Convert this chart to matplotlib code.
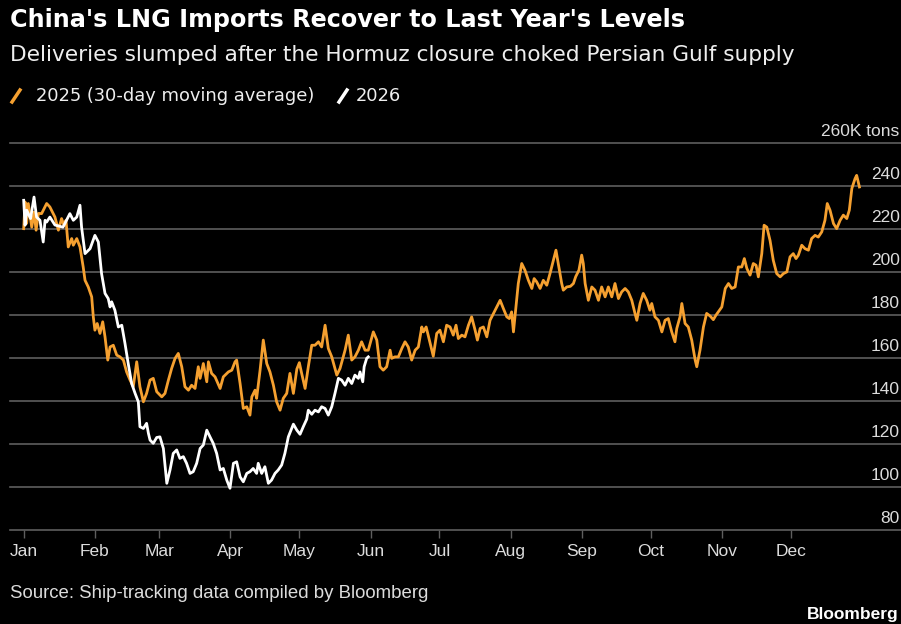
import matplotlib
matplotlib.use("Agg")
import matplotlib.pyplot as plt
from matplotlib.lines import Line2D

# 2025 series, 30-day moving average (day of year, thousand tons)
day_2025 = [
    0.0, 0.6, 1.3, 2.0, 3.5, 4.5, 5.4, 6.4, 7.8, 10.0,
    11.4, 13.6, 15.1, 16.5, 17.5, 18.4, 19.4, 20.9, 21.6, 23.1,
    24.5, 25.9, 26.7, 28.1, 29.6, 30.3, 31.0, 32.0, 33.2, 34.4,
    35.4, 36.6, 37.6, 39.0, 40.5, 41.9, 43.4, 44.8, 46.3, 47.7,
    49.2, 50.6, 52.1, 53.5, 55.0, 56.4, 57.9, 60.1, 61.5, 63.0,
    64.4, 65.9, 67.3, 68.8, 70.2, 71.7, 73.1, 74.6, 76.0, 76.8,
    78.2, 79.7, 80.4, 81.8, 83.3, 85.5, 86.9, 89.1, 90.6, 92.0,
    92.7, 94.2, 95.6, 97.1, 98.5, 99.3, 100.7, 101.4, 102.9, 104.3,
    105.8, 107.2, 108.7, 110.1, 111.6, 113.0, 114.5, 115.9, 117.4, 118.9,
    120.0, 121.0, 122.5, 123.9, 125.4, 126.8, 128.3, 129.7, 131.2, 132.6,
    134.1, 136.3, 137.7, 139.9, 141.3, 142.8, 144.2, 145.7, 147.1, 148.6,
    150.0, 152.2, 153.7, 155.1, 156.5, 158.0, 159.5, 160.2, 161.6, 163.1,
    164.6, 166.0, 167.4, 168.9, 170.4, 171.8, 173.3, 174.0, 175.2, 176.6,
    178.3, 179.8, 181.2, 182.7, 184.1, 185.6, 187.0, 188.2, 189.2, 190.7,
    192.1, 193.6, 195.0, 196.5, 197.5, 198.7, 200.1, 201.6, 203.0, 204.5,
    205.9, 207.4, 208.8, 210.3, 211.4, 212.4, 213.2, 214.3, 215.3, 216.8,
    218.2, 219.7, 221.2, 222.2, 223.3, 224.8, 226.2, 227.7, 229.1, 230.6,
    231.7, 232.7, 234.2, 234.9, 236.4, 238.0, 239.3, 240.3, 241.7, 242.9,
    243.6, 244.4, 245.8, 247.3, 248.7, 250.2, 251.6, 253.1, 254.5, 256.0,
    257.4, 258.9, 260.3, 261.8, 263.2, 264.7, 266.1, 266.9, 268.3, 269.7,
    271.2, 272.6, 273.4, 274.8, 276.3, 277.8, 279.2, 280.6, 282.1, 283.5,
    284.3, 285.7, 286.5, 287.9, 289.3, 290.8, 292.3, 293.0, 294.4, 295.9,
    297.3, 298.8, 300.2, 301.3, 303.9, 305.4, 306.8, 308.2, 309.7, 311.1,
    312.6, 313.7, 314.8, 316.2, 317.6, 318.8, 319.8, 321.3, 322.3, 323.5,
    324.9, 326.3, 327.8, 329.3, 330.7, 332.2, 333.6, 335.0, 336.2, 337.2,
    338.7, 340.1, 341.6, 343.0, 344.5, 345.9, 347.4, 348.8, 349.8, 351.0,
    352.5, 353.9, 355.4, 356.8, 358.3, 359.4, 360.5, 361.9, 362.6, 363.8,
]
val_2025 = [
    220.3, 232.7, 222.8, 232.0, 221.0, 228.0, 219.6, 227.4, 227.3, 232.0,
    230.4, 225.7, 219.6, 225.0, 221.9, 224.2, 211.8, 215.7, 212.6, 215.7,
    211.8, 202.5, 196.3, 193.2, 188.6, 179.3, 173.1, 176.2, 171.6, 177.0,
    170.0, 159.2, 165.3, 166.1, 161.5, 160.7, 159.2, 153.7, 149.9, 146.8,
    158.4, 146.8, 139.8, 143.7, 149.9, 150.7, 144.5, 142.1, 143.7, 149.9,
    155.3, 160.0, 162.3, 156.1, 146.8, 145.2, 147.5, 146.0, 156.1, 150.7,
    157.6, 149.1, 158.4, 153.0, 151.4, 146.0, 151.4, 153.7, 154.5, 158.4,
    159.2, 148.3, 136.7, 137.5, 133.6, 142.1, 145.2, 141.4, 154.5, 168.5,
    157.6, 153.7, 147.5, 139.8, 135.9, 141.4, 143.7, 153.0, 143.7, 155.0,
    158.0, 153.0, 146.0, 156.1, 166.1, 166.1, 167.7, 165.3, 175.4, 164.6,
    160.7, 152.2, 155.3, 163.8, 170.8, 159.2, 160.7, 163.8, 167.7, 163.8,
    163.8, 172.3, 168.5, 156.1, 154.5, 156.1, 163.8, 160.0, 160.7, 160.7,
    164.6, 167.7, 165.3, 159.2, 163.8, 165.3, 174.6, 172.3, 174.6, 168.5,
    161.0, 171.6, 173.1, 167.7, 175.4, 174.6, 170.8, 175.4, 169.2, 170.8,
    170.0, 175.4, 179.3, 173.1, 168.5, 173.9, 174.6, 170.0, 177.7, 180.9,
    183.9, 187.0, 183.2, 179.3, 178.5, 181.6, 172.3, 183.9, 194.8, 204.1,
    201.0, 196.3, 192.5, 197.1, 195.6, 192.5, 196.3, 194.0, 199.4, 205.6,
    210.3, 204.1, 194.8, 191.7, 193.2, 193.5, 194.8, 198.0, 201.0, 208.0,
    204.1, 194.8, 187.0, 193.2, 191.7, 187.0, 193.2, 188.6, 193.2, 188.6,
    194.8, 187.8, 190.9, 192.5, 190.9, 187.0, 180.9, 177.7, 185.5, 190.2,
    187.0, 182.4, 185.5, 179.3, 177.7, 172.3, 177.7, 178.5, 172.3, 167.7,
    173.9, 179.3, 185.5, 176.2, 174.6, 168.5, 159.2, 156.1, 163.8, 174.6,
    180.9, 179.7, 178.0, 180.0, 183.9, 192.5, 194.8, 192.5, 193.2, 202.5,
    202.5, 206.4, 201.8, 198.7, 204.1, 203.3, 197.9, 208.7, 221.9, 221.0,
    214.8, 205.6, 199.4, 197.9, 199.4, 200.2, 207.2, 208.7, 206.4, 207.9,
    212.6, 211.0, 210.3, 215.7, 217.2, 216.4, 218.8, 224.2, 232.0, 228.9,
    222.7, 220.3, 224.2, 226.6, 225.0, 228.9, 239.0, 243.6, 245.1, 239.7,
]

# 2026 series (through early June)
day_2026 = [
    0.0, 0.6, 1.3, 2.0, 3.0, 4.5, 5.6, 7.1, 8.5, 9.3,
    10.0, 11.4, 13.6, 17.1, 20.1, 21.6, 23.1, 24.5, 25.2, 26.7,
    28.9, 31.0, 32.5, 33.9, 35.4, 36.8, 37.6, 38.3, 39.7, 41.2,
    42.7, 44.1, 45.5, 47.0, 48.5, 49.9, 50.6, 52.1, 53.5, 54.3,
    55.0, 56.4, 57.9, 59.3, 60.8, 62.3, 63.7, 65.1, 66.6, 68.0,
    69.5, 70.9, 72.4, 73.8, 75.3, 76.8, 78.2, 79.7, 81.1, 82.5,
    84.0, 85.5, 86.9, 88.4, 89.8, 91.3, 92.7, 94.2, 95.6, 97.1,
    98.5, 99.9, 101.4, 102.1, 103.6, 105.0, 106.5, 107.9, 109.4, 110.8,
    112.3, 113.7, 115.2, 117.4, 118.9, 120.3, 121.7, 123.2, 123.9, 125.4,
    126.8, 128.3, 129.7, 131.2, 132.6, 134.1, 135.5, 137.0, 138.4, 139.9,
    141.3, 142.8, 144.2, 145.7, 146.4, 147.6, 148.2, 149.3, 150.0,
]
val_2026 = [
    233.5, 221.9, 228.9, 227.3, 225.0, 235.0, 225.7, 224.2, 214.1, 224.2,
    223.4, 225.7, 222.0, 221.0, 227.3, 224.2, 225.7, 231.2, 221.0, 208.7,
    211.0, 217.2, 214.1, 199.4, 190.2, 187.8, 183.9, 186.3, 182.4, 174.6,
    175.4, 166.9, 157.6, 148.3, 143.7, 139.8, 128.2, 127.4, 129.8, 125.1,
    122.0, 120.5, 123.2, 123.5, 118.1, 101.9, 108.1, 115.8, 117.4, 113.5,
    114.3, 111.2, 106.5, 107.3, 111.2, 118.1, 119.7, 126.6, 123.5, 120.5,
    115.8, 108.1, 108.8, 103.4, 99.6, 111.2, 111.9, 104.9, 102.6, 106.5,
    107.3, 108.8, 106.5, 111.2, 106.5, 109.6, 101.9, 103.4, 106.5, 108.1,
    110.4, 115.8, 123.5, 129.4, 126.6, 124.7, 128.2, 131.7, 135.9, 134.0,
    135.9, 135.1, 137.5, 136.7, 133.6, 137.5, 143.7, 150.7, 149.9, 147.5,
    150.7, 148.3, 152.2, 150.7, 153.7, 149.1, 156.1, 160.0, 160.7,
]

month_start = [0, 31, 59, 90, 120, 151, 181, 212, 243, 273, 304, 334]
month_names = ["Jan", "Feb", "Mar", "Apr", "May", "Jun",
               "Jul", "Aug", "Sep", "Oct", "Nov", "Dec"]
y_ticks = [80, 100, 120, 140, 160, 180, 200, 220, 240, 260]
y_labels = ["80", "100", "120", "140", "160", "180", "200", "220", "240", "260K tons"]

ORANGE = "#F5A030"
WHITE = "#FFFFFF"
GRID = "#5e5e5e"
TEXT = "#dcdcdc"
W, H = 901, 624

fig = plt.figure(figsize=(W / 100, H / 100), dpi=100, facecolor="black")
ax = fig.add_axes([10 / W, (H - 530.4) / H, 891 / W, (530.4 - 143.3) / H])
ax.set_facecolor("black")
ax.set_xlim(-5.96, 381.9)
ax.set_ylim(80, 260)

for v in y_ticks:
    ax.axhline(v, color=GRID, lw=1.2, clip_on=False, zorder=1)

ax.plot(day_2025, val_2025, color=ORANGE, lw=2.0, zorder=3, solid_joinstyle="round")
ax.plot(day_2026, val_2026, color=WHITE, lw=2.0, zorder=4, solid_joinstyle="round")

# right-side value labels sitting above their gridlines
for v, lab in zip(y_ticks, y_labels):
    ax.annotate(lab, xy=(1, v), xycoords=ax.get_yaxis_transform(),
                xytext=(-1, 5.5), textcoords="offset points",
                ha="right", va="baseline", color=TEXT, fontsize=12.5,
                family="Liberation Sans", annotation_clip=False)

ax.set_yticks([])
ax.set_xticks(month_start)
ax.set_xticklabels(month_names, family="Liberation Sans")
ax.tick_params(axis="x", length=6, width=1, color=GRID, labelcolor=TEXT,
               labelsize=12.5, pad=3.5)
for s in ax.spines.values():
    s.set_visible(False)

# titles
fig.text(10 / W, 1 - 20 / H, "China's LNG Imports Recover to Last Year's Levels",
         color="white", fontsize=17.2, weight="bold", va="center")
fig.text(10 / W, 1 - 55 / H,
         "Deliveries slumped after the Hormuz closure choked Persian Gulf supply",
         color="#eeeeee", fontsize=15.6, va="center")

# legend
fig.add_artist(Line2D([12 / W, 20 / W], [1 - 102 / H, 1 - 90 / H],
                      color=ORANGE, lw=2.5, transform=fig.transFigure))
fig.text(36 / W, 1 - 96 / H, "2025 (30-day moving average)",
         color="#eeeeee", fontsize=12.9, va="center")
fig.add_artist(Line2D([339 / W, 347 / W], [1 - 102 / H, 1 - 90 / H],
                      color=WHITE, lw=2.5, transform=fig.transFigure))
fig.text(356 / W, 1 - 96 / H, "2026", color="#eeeeee", fontsize=12.9, va="center")

fig.text(10 / W, 1 - 594 / H, "Source: Ship-tracking data compiled by Bloomberg",
         color=TEXT, fontsize=13.4, family="Liberation Sans", va="center")
fig.text(899 / W, 1 - 614 / H, "Bloomberg", color="white", fontsize=12.5,
         family="Liberation Sans", weight="bold", va="center", ha="right")

fig.savefig("out.png", dpi=100, facecolor="black")
